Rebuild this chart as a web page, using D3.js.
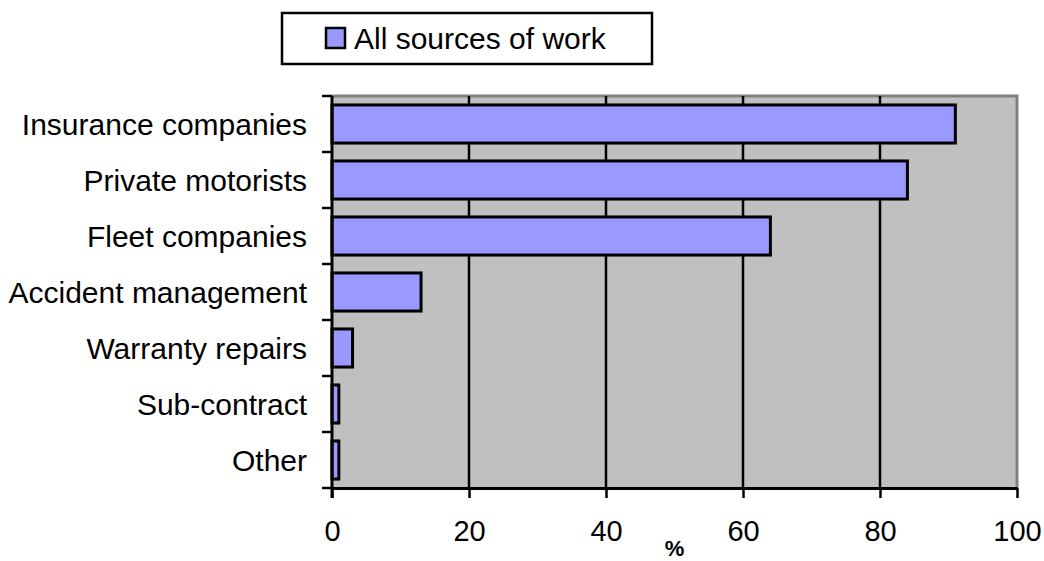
<!DOCTYPE html>
<html>
<head>
<meta charset="utf-8">
<script src="https://cdn.jsdelivr.net/npm/d3@7"></script>
<style>
  html, body { margin: 0; padding: 0; background: #fff; }
  svg { display: block; }
  text { font-family: "Liberation Sans", Arial, sans-serif; fill: #000; }
</style>
</head>
<body>
<svg id="chart" width="1044" height="561"></svg>
<script>
// Sources of work, share of respondents (%)
const categories = ["Insurance companies", "Private motorists", "Fleet companies",
  "Accident management", "Warranty repairs", "Sub-contract", "Other"];
const values = [91, 84, 64, 13, 3, 1, 1];
const xTicks = [0, 20, 40, 60, 80, 100];
const seriesName = "All sources of work";
const axisTitle = "%";

const svg = d3.select("#chart");
const plot = { left: 332, right: 1017, top: 96, bottom: 488 };

const x = d3.scaleLinear().domain([0, 100]).range([plot.left, plot.right]);
const y = d3.scaleBand().domain(categories).range([plot.top, plot.bottom])
  .paddingInner(0.32).paddingOuter(0.16);

// plot area background
svg.append("rect")
  .attr("x", plot.left).attr("y", plot.top)
  .attr("width", plot.right - plot.left).attr("height", plot.bottom - plot.top)
  .attr("fill", "#c0c0c0");

// top and right frame
svg.append("path")
  .attr("d", `M${plot.left},${plot.top}H${plot.right}V${plot.bottom}`)
  .attr("fill", "none").attr("stroke", "#808080").attr("stroke-width", 3);

// vertical gridlines
svg.append("g").selectAll("line")
  .data(xTicks.filter(d => d > 0 && d < 100))
  .join("line")
  .attr("x1", d => x(d)).attr("x2", d => x(d))
  .attr("y1", plot.top).attr("y2", plot.bottom)
  .attr("stroke", "#000").attr("stroke-width", 2.5);

// bars
svg.append("g").selectAll("rect")
  .data(values)
  .join("rect")
  .attr("x", x(0))
  .attr("y", (d, i) => y(categories[i]))
  .attr("width", d => x(d) - x(0))
  .attr("height", y.bandwidth())
  .attr("fill", "#9999ff")
  .attr("stroke", "#000").attr("stroke-width", 3);

// x axis
const xAxis = svg.append("g")
  .attr("transform", `translate(0,${plot.bottom})`)
  .call(d3.axisBottom(x).tickValues(xTicks).tickSize(10).tickPadding(22).tickSizeOuter(0));
xAxis.select(".domain").attr("stroke", "#000").attr("stroke-width", 3);
xAxis.selectAll(".tick line").attr("stroke", "#000").attr("stroke-width", 2.5);
xAxis.selectAll(".tick text").attr("font-size", 29).attr("font-family", "Liberation Sans, Arial, sans-serif").attr("fill", "#000");

// y axis: ticks sit on band boundaries
const bounds = d3.range(categories.length + 1).map(i => plot.top + i * (plot.bottom - plot.top) / categories.length);
const yAxis = svg.append("g");
yAxis.append("line")
  .attr("x1", plot.left).attr("x2", plot.left)
  .attr("y1", plot.top).attr("y2", plot.bottom + 10)
  .attr("stroke", "#000").attr("stroke-width", 3);
yAxis.selectAll("line.tk")
  .data(bounds)
  .join("line").attr("class", "tk")
  .attr("x1", plot.left - 10).attr("x2", plot.left)
  .attr("y1", d => d).attr("y2", d => d)
  .attr("stroke", "#000").attr("stroke-width", 2.5);
yAxis.selectAll("text")
  .data(categories)
  .join("text")
  .attr("x", plot.left - 25)
  .attr("y", d => y(d) + y.bandwidth() / 2)
  .attr("dy", "0.35em")
  .attr("text-anchor", "end")
  .attr("font-size", 30)
  .text(d => d);

// axis title
svg.append("text")
  .attr("x", (plot.left + plot.right) / 2)
  .attr("y", 556)
  .attr("text-anchor", "middle")
  .attr("font-size", 22)
  .attr("font-weight", "bold")
  .text(axisTitle);

// legend
const lg = svg.append("g");
lg.append("rect")
  .attr("x", 282).attr("y", 13).attr("width", 370).attr("height", 51)
  .attr("fill", "#fff").attr("stroke", "#000").attr("stroke-width", 2.5);
lg.append("rect")
  .attr("x", 326).attr("y", 28).attr("width", 19).attr("height", 20)
  .attr("fill", "#9999ff").attr("stroke", "#000").attr("stroke-width", 2.5);
lg.append("text")
  .attr("x", 354).attr("y", 38).attr("dy", "0.35em")
  .attr("font-size", 30)
  .text(seriesName);
</script>
</body>
</html>
